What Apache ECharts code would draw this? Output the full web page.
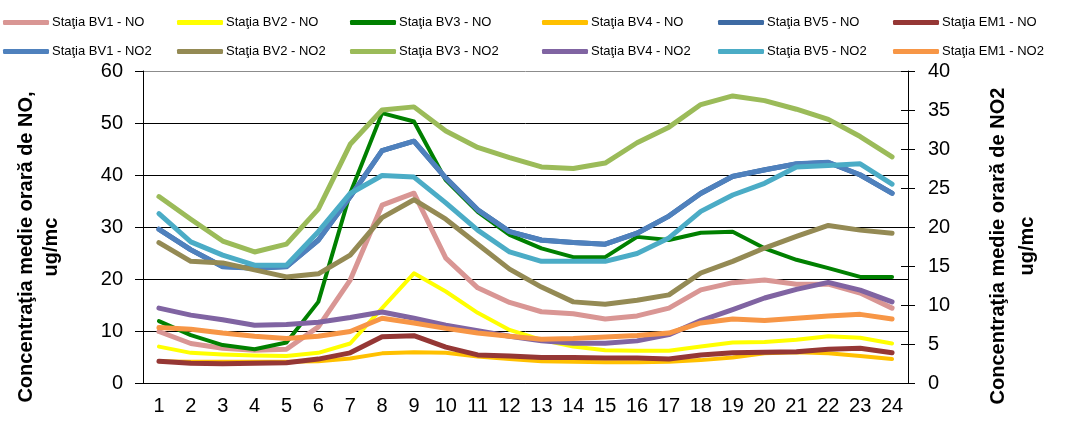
<!DOCTYPE html>
<html>
<head>
<meta charset="utf-8">
<script src="https://cdn.jsdelivr.net/npm/echarts@6/dist/echarts.min.js"></script>
<style>
  html, body { margin: 0; padding: 0; background: #fff; }
  #chart { width: 1066px; height: 426px; }
</style>
</head>
<body>
<div id="chart"></div>
<script>
const hours = ["1", "2", "3", "4", "5", "6", "7", "8", "9", "10", "11", "12",
  "13", "14", "15", "16", "17", "18", "19", "20", "21", "22", "23", "24"]

// NO, ug/mc (axa stanga)
const bv1No = [9.9, 7.6, 6.7, 6.3, 6.5, 10.8, 19.8, 34.2, 36.5, 24.0, 18.3, 15.5, 13.7, 13.3, 12.3, 12.9, 14.4, 17.9, 19.3, 19.8, 19.0, 19.0, 17.3, 14.4]
const bv2No = [7.0, 5.8, 5.5, 5.3, 5.2, 5.8, 7.6, 14.4, 21.1, 17.6, 13.5, 10.2, 8.3, 7.0, 6.3, 6.2, 6.2, 7.0, 7.8, 7.9, 8.3, 9.0, 8.7, 7.6]
const bv3No = [11.9, 9.2, 7.3, 6.5, 7.8, 15.6, 36.5, 51.9, 50.3, 39.0, 32.9, 28.5, 25.9, 24.2, 24.2, 28.1, 27.5, 28.9, 29.1, 25.9, 23.7, 22.1, 20.4, 20.4]
const bv4No = [4.2, 4.1, 4.1, 4.1, 4.1, 4.2, 4.7, 5.7, 5.9, 5.8, 5.1, 4.6, 4.2, 4.1, 4.0, 4.0, 4.1, 4.4, 4.9, 5.7, 5.9, 5.7, 5.2, 4.6]
const bv5No = [29.6, 25.6, 22.4, 22.1, 22.4, 27.5, 35.8, 44.7, 46.5, 39.4, 33.3, 29.1, 27.5, 27.0, 26.7, 28.8, 32.1, 36.5, 39.7, 41.0, 42.1, 42.4, 40.0, 36.5]
const em1No = [4.2, 3.8, 3.7, 3.8, 3.9, 4.6, 5.8, 8.9, 9.1, 6.9, 5.4, 5.2, 4.9, 4.9, 4.8, 4.8, 4.6, 5.4, 5.8, 5.9, 6.0, 6.5, 6.7, 5.8]

// NO2, ug/mc (axa dreapta)
const bv1No2 = [19.7, 17.1, 14.9, 14.7, 14.9, 18.3, 23.9, 29.8, 31.0, 26.3, 22.2, 19.4, 18.3, 18.0, 17.8, 19.2, 21.4, 24.3, 26.5, 27.3, 28.1, 28.3, 26.7, 24.3]
const bv2No2 = [18.0, 15.6, 15.4, 14.5, 13.6, 14.0, 16.4, 21.2, 23.5, 21.0, 17.8, 14.6, 12.3, 10.4, 10.1, 10.6, 11.3, 14.1, 15.6, 17.3, 18.8, 20.2, 19.6, 19.2]
const bv3No2 = [23.9, 21.0, 18.2, 16.8, 17.8, 22.3, 30.6, 35.0, 35.4, 32.3, 30.2, 28.9, 27.7, 27.5, 28.2, 30.8, 32.8, 35.7, 36.8, 36.2, 35.1, 33.8, 31.6, 29.0]
const bv4No2 = [9.6, 8.7, 8.1, 7.4, 7.5, 7.8, 8.4, 9.1, 8.3, 7.4, 6.7, 6.0, 5.4, 5.1, 5.1, 5.4, 6.2, 8.0, 9.4, 10.9, 12.0, 12.9, 11.9, 10.4]
const bv5No2 = [21.7, 18.1, 16.4, 15.1, 15.1, 19.4, 24.3, 26.6, 26.4, 23.1, 19.6, 16.8, 15.6, 15.6, 15.6, 16.6, 18.6, 22.0, 24.1, 25.6, 27.7, 27.9, 28.1, 25.5]
const em1No2 = [7.1, 6.9, 6.4, 6.0, 5.7, 6.0, 6.6, 8.3, 7.7, 7.0, 6.4, 6.0, 5.6, 5.7, 5.9, 6.1, 6.4, 7.7, 8.2, 8.0, 8.3, 8.6, 8.8, 8.2]

const stations = ["BV1", "BV2", "BV3", "BV4", "BV5", "EM1"]
const legendLeft = [3, 177, 350, 542, 718, 893]

const font = "Arial, 'Liberation Sans', sans-serif"

const line = (name, data, color, width, axis) => ({
  name: name,
  type: "line",
  yAxisIndex: axis,
  data: data,
  symbol: "none",
  color: color,
  lineStyle: { width: width, color: color, cap: "round", join: "round" },
})

const myE = echarts.init(document.getElementById("chart"))
let option = {
  animation: false,
  textStyle: { fontFamily: font },
  legend: stations.map((s, i) => ({
    orient: "vertical",
    left: legendLeft[i],
    top: 16,
    padding: 0,
    itemGap: 16,
    itemWidth: 46,
    itemHeight: 5,
    icon: "roundRect",
    selectedMode: false,
    textStyle: { fontSize: 13, color: "#000", fontFamily: font, padding: [0, 0, 0, -2] },
    data: ["Staţia " + s + " - NO", "Staţia " + s + " - NO2"],
  })),
  grid: {
    top: 71,
    left: 143,
    right: 158,
    bottom: 43,
  },
  xAxis: {
    type: "category",
    data: hours,
    boundaryGap: true,
    axisLine: { lineStyle: { color: "#000", width: 1 } },
    axisTick: { length: 8, lineStyle: { color: "#000" } },
    axisLabel: { fontSize: 20, color: "#000", margin: 13, fontFamily: font },
  },
  yAxis: [
    {
      type: "value",
      min: 0,
      max: 60,
      interval: 10,
      position: "left",
      axisLine: { show: true, lineStyle: { color: "#000" } },
      axisTick: { show: true, length: 8, lineStyle: { color: "#000" } },
      axisLabel: { fontSize: 20, color: "#000", margin: 20, fontFamily: font },
      splitLine: {
        show: true,
        lineStyle: { color: ["#000", "#000", "#000", "#000", "#000", "#000", "#8c8c8c"], width: 1 },
      },
    },
    {
      type: "value",
      min: 0,
      max: 40,
      interval: 5,
      position: "right",
      axisLine: { show: true, lineStyle: { color: "#000" } },
      axisTick: { show: true, length: 7, lineStyle: { color: "#000" } },
      axisLabel: { fontSize: 20, color: "#000", margin: 20, fontFamily: font },
      splitLine: { show: false },
    },
    {
      // tick-uri interioare pe axa dreapta (tick-uri "cross")
      type: "value",
      min: 0,
      max: 40,
      interval: 5,
      position: "right",
      axisLine: { show: false },
      axisTick: { show: true, inside: true, length: 7, lineStyle: { color: "#000" } },
      axisLabel: { show: false },
      splitLine: { show: false },
    },
  ],
  graphic: [
    {
      type: "text", x: 26, y: 247, rotation: Math.PI / 2,
      style: { text: "Concentraţia medie orară de NO,", font: "bold 20px " + font, fill: "#000", textAlign: "center", textVerticalAlign: "middle" },
    },
    {
      type: "text", x: 51, y: 247, rotation: Math.PI / 2,
      style: { text: "ug/mc", font: "bold 20px " + font, fill: "#000", textAlign: "center", textVerticalAlign: "middle" },
    },
    {
      type: "text", x: 998, y: 246, rotation: Math.PI / 2,
      style: { text: "Concentraţia medie orară de NO2", font: "bold 20px " + font, fill: "#000", textAlign: "center", textVerticalAlign: "middle" },
    },
    {
      type: "text", x: 1027, y: 246, rotation: Math.PI / 2,
      style: { text: "ug/mc", font: "bold 20px " + font, fill: "#000", textAlign: "center", textVerticalAlign: "middle" },
    },
  ],
  series: [
    line("Staţia BV1 - NO", bv1No, "#d99694", 5, 0),
    line("Staţia BV2 - NO", bv2No, "#ffff00", 4, 0),
    line("Staţia BV3 - NO", bv3No, "#008000", 4, 0),
    line("Staţia BV4 - NO", bv4No, "#ffc000", 4, 0),
    line("Staţia BV5 - NO", bv5No, "#3d6aa3", 5, 0),
    line("Staţia EM1 - NO", em1No, "#953735", 5, 0),
    line("Staţia BV1 - NO2", bv1No2, "#4f81bd", 5, 1),
    line("Staţia BV2 - NO2", bv2No2, "#948a54", 5, 1),
    line("Staţia BV3 - NO2", bv3No2, "#9bbb59", 5, 1),
    line("Staţia BV4 - NO2", bv4No2, "#8064a2", 5, 1),
    line("Staţia BV5 - NO2", bv5No2, "#4bacc6", 5, 1),
    line("Staţia EM1 - NO2", em1No2, "#f79646", 5, 1),
  ],
}
myE.setOption(option)
window.addEventListener("resize", () => {
  myE.resize()
})
</script>
</body>
</html>
